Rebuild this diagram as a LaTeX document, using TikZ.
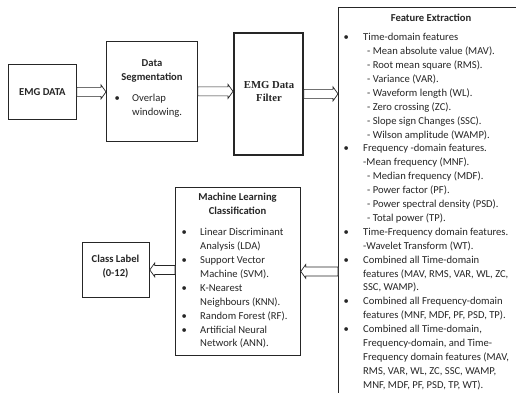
\documentclass[tikz,border=0pt]{standalone}
\usepackage{fontspec}
\setmainfont{Carlito}
\newfontfamily\serifb{Liberation Serif}
\usetikzlibrary{calc}
\tikzset{
 box/.style={draw=black!85, line width=0.8pt, rectangle, inner sep=0pt, anchor=north west},
 thickbox/.style={box, line width=1.8pt},
 txt/.style={inner sep=0pt, align=left, font=\fontsize{10.6}{13.9}\selectfont, text=black!85},
 ttl/.style={inner sep=0pt, align=center, font=\fontsize{10.6}{13.9}\selectfont\bfseries, text=black!85},
 hollow/.style={draw=black!85, line width=0.7pt, fill=white, line join=miter},
}
\newcommand{\hollowarrow}[3]{%
 \draw[hollow] let \p1=(#1), \p2=(#2) in
 (\x1,\y1+4.5pt) -- (\x2-#3*5pt,\y1+4.5pt) -- (\x2-#3*5pt,\y1+7pt) -- (\x2,\y1)
 -- (\x2-#3*5pt,\y1-7pt) -- (\x2-#3*5pt,\y1-4.5pt) -- (\x1,\y1-4.5pt) -- cycle;}
\newcommand{\bul}[1]{\makebox[#1][l]{\textbullet}}
\newcommand{\ind}[1]{\hspace*{#1}}
\begin{document}
\begin{tikzpicture}[x=1pt,y=-1pt]
\useasboundingbox (0,0) rectangle (516,393);
\clip (0,0) rectangle (516,393);
\fill[white] (0,0) rectangle (516,393);
% boxes
\node[box, minimum width=68pt, minimum height=55pt, font=\fontsize{10.6}{13.9}\selectfont\bfseries, text=black!85] (emg) at (8,64) {EMG DATA};
\node[box, minimum width=91pt, minimum height=100pt] (seg) at (106,41) {};
\node[thickbox, minimum width=69pt, minimum height=122pt] (filt) at (233,32) {};
\node[box, minimum width=210pt, minimum height=420pt] (feat) at (338,7) {};
\node[box, minimum width=125pt, minimum height=168pt] (ml) at (175,187) {};
\node[box, minimum width=67pt, minimum height=55pt] (cl) at (82,242) {};
% texts
\node[ttl, anchor=north] (segt) at (152,56.8) {\strut Data\\Segmentation};
\node[txt, anchor=north west] (segl) at (114.5,91.8) {\strut\bul{17.5pt}Overlap\\\ind{17.5pt}windowing.};
\node[inner sep=0pt, align=center, text=black!85, font=\serifb\bfseries\fontsize{10.7}{13}\selectfont] (filtt) at (269,91.5) {EMG Data\\Filter};
\node[ttl, anchor=north] (featt) at (431,11.8) {\strut Feature Extraction};
\node[txt, anchor=north west] (featl) at (343.5,30.8) {\strut\bul{19.5pt}Time-domain features\\
\ind{23.5pt}- Mean absolute value (MAV).\\
\ind{23.5pt}- Root mean square (RMS).\\
\ind{23.5pt}- Variance (VAR).\\
\ind{23.5pt}- Waveform length (WL).\\
\ind{23.5pt}- Zero crossing (ZC).\\
\ind{23.5pt}- Slope sign Changes (SSC).\\
\ind{23.5pt}- Wilson amplitude (WAMP).\\
\bul{19.5pt}Frequency -domain features.\\
\ind{19.5pt}-Mean frequency (MNF).\\
\ind{23.5pt}- Median frequency (MDF).\\
\ind{23.5pt}- Power factor (PF).\\
\ind{23.5pt}- Power spectral density (PSD).\\
\ind{23.5pt}- Total power (TP).\\
\bul{19.5pt}Time-Frequency domain features.\\
\ind{19.5pt}-Wavelet Transform (WT).\\
\bul{19.5pt}Combined all Time-domain\\
\ind{19.5pt}features (MAV, RMS, VAR, WL, ZC,\\
\ind{19.5pt}SSC, WAMP).\\
\bul{19.5pt}Combined all Frequency-domain\\
\ind{19.5pt}features (MNF, MDF, PF, PSD, TP).\\
\bul{19.5pt}Combined all Time-domain,\\
\ind{19.5pt}Frequency-domain, and Time-\\
\ind{19.5pt}Frequency domain features (MAV,\\
\ind{19.5pt}RMS, VAR, WL, ZC, SSC, WAMP,\\
\ind{19.5pt}MNF, MDF, PF, PSD, TP, WT).};
\node[ttl, anchor=north] (mlt) at (237.5,190.8) {\strut Machine Learning\\Classification};
\node[txt, anchor=north west] (mll) at (181.5,225.8) {\strut\bul{18.5pt}Linear Discriminant\\
\ind{18.5pt}Analysis (LDA)\\
\bul{18.5pt}Support Vector\\
\ind{18.5pt}Machine (SVM).\\
\bul{18.5pt}K-Nearest\\
\ind{18.5pt}Neighbours (KNN).\\
\bul{18.5pt}Random Forest (RF).\\
\bul{18.5pt}Artificial Neural\\
\ind{18.5pt}Network (ANN).};
\node[ttl, anchor=north] (clt) at (115.5,252.3) {\strut Class Label\\(0-12)};
% arrows
\hollowarrow{emg.east}{seg.west |- emg.east}{1}
\hollowarrow{seg.east}{filt.west |- seg.east}{1}
\hollowarrow{filt.east}{feat.west |- filt.east}{1}
\hollowarrow{feat.west |- ml.east}{ml.east}{-1}
\hollowarrow{ml.west |- cl.east}{cl.east}{-1}
\end{tikzpicture}
\end{document}
